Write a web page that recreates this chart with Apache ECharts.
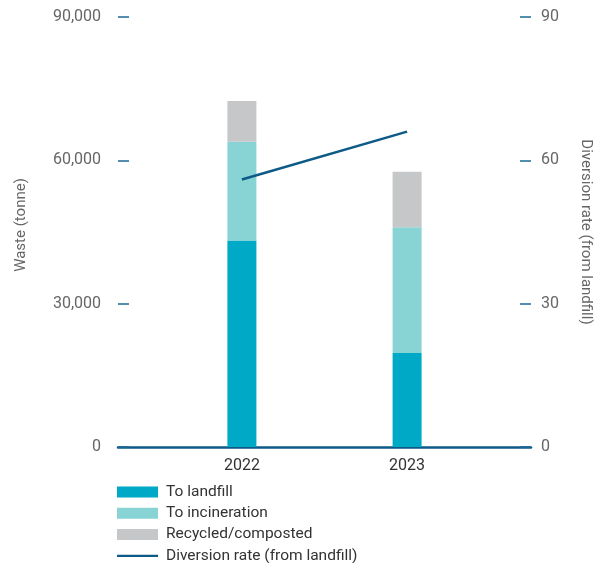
<!DOCTYPE html>
<html>
<head>
<meta charset="utf-8">
<script src="https://cdn.jsdelivr.net/npm/echarts@6/dist/echarts.min.js"></script>
<style>html,body{margin:0;padding:0;background:#fff}#c{width:601px;height:563px}</style>
</head>
<body>
<div id="c"></div>
<script>
const categories = ['2022', '2023'];
const toLandfill = [43200, 19700];
const toIncineration = [20700, 26300];
const recycled = [8500, 11600];
const diversionRate = [56, 66];
const leftTicks = [0, 30000, 60000, 90000];
const rightTicks = [0, 30, 60, 90];

// pad categories with blank slots so the two years sit where they do in the reference
function pad(arr) { return [null, arr[0], null, arr[1], null]; }
const axisCats = ['', categories[0], ' ', categories[1], '  '];

const font = 'Roboto, "Noto Sans", sans-serif';
const chart = echarts.init(document.getElementById('c'), null, {renderer: 'canvas'});
chart.setOption({
  animation: false,
  textStyle: {fontFamily: font},
  grid: {left: 118, right: 68, top: 17, bottom: 116, containLabel: false},
  legend: {
    orient: 'vertical', left: 117, top: 484, height: 90, padding: 0,
    itemWidth: 41, itemHeight: 11, itemGap: 5.3,
    textStyle: {fontFamily: font, fontSize: 15.5, lineHeight: 16, color: '#333', padding: [0, 0, 0, 3]},
    data: [
      {name: 'To landfill', icon: 'rect'},
      {name: 'To incineration', icon: 'rect'},
      {name: 'Recycled/composted', icon: 'rect'},
      {name: 'Diversion rate (from landfill)', icon: 'path://M0,0H41V2.2H0Z', itemStyle: {color: '#0E5A87'}}
    ]
  },
  xAxis: {
    type: 'category', data: axisCats,
    axisLine: {show: true, lineStyle: {color: '#0E5A87', width: 2.5}},
    axisTick: {show: false},
    axisLabel: {color: '#333', fontSize: 16, margin: 11, fontFamily: font}
  },
  yAxis: [
    {
      type: 'value', min: leftTicks[0], max: leftTicks[leftTicks.length - 1], interval: leftTicks[1] - leftTicks[0],
      name: 'Waste (tonne)', nameLocation: 'middle', nameGap: 89, nameRotate: 90,
      nameTextStyle: {color: '#666', fontSize: 15, fontFamily: font, padding: [0, 0, 0, 14]},
      axisLine: {show: false},
      axisTick: {show: true, inside: true, length: 11, lineStyle: {color: '#1B6A96', width: 1.5}},
      axisLabel: {color: '#666', fontSize: 16, margin: 17, fontFamily: font, padding: [10, 0, 0, 0],
        formatter: v => v.toLocaleString('en-US')},
      splitLine: {show: false}
    },
    {
      type: 'value', min: rightTicks[0], max: rightTicks[rightTicks.length - 1], interval: rightTicks[1] - rightTicks[0],
      name: 'Diversion rate (from landfill)', nameLocation: 'middle', nameGap: 47, nameRotate: -90,
      nameTextStyle: {color: '#666', fontSize: 15, fontFamily: font},
      axisLine: {show: false},
      axisTick: {show: true, inside: true, length: 11, lineStyle: {color: '#1B6A96', width: 1.5}},
      axisLabel: {color: '#666', fontSize: 16, margin: 10, fontFamily: font, padding: [10, 0, 0, 0]},
      splitLine: {show: false}
    }
  ],
  series: [
    {name: 'To landfill', type: 'bar', stack: 'w', barWidth: 29, data: pad(toLandfill), itemStyle: {color: '#00A9C6'}},
    {name: 'To incineration', type: 'bar', stack: 'w', barWidth: 29, data: pad(toIncineration), itemStyle: {color: '#88D3D4'}},
    {name: 'Recycled/composted', type: 'bar', stack: 'w', barWidth: 29, data: pad(recycled), itemStyle: {color: '#C6C7C9'}},
    {name: 'Diversion rate (from landfill)', type: 'line', yAxisIndex: 1, data: pad(diversionRate), connectNulls: true,
      symbol: 'none', showSymbol: false, lineStyle: {color: '#0E5A87', width: 2.5}, itemStyle: {color: '#0E5A87'}, z: 5}
  ]
});
</script>
</body>
</html>
